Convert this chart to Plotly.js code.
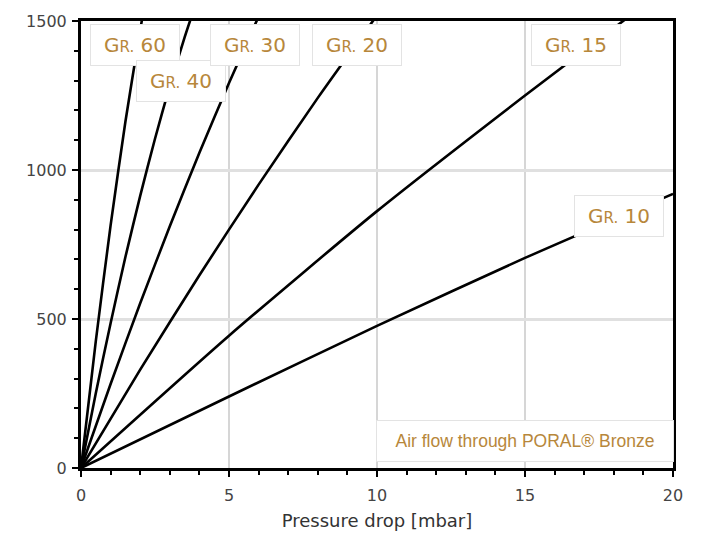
<!DOCTYPE html>
<html>
<head>
<meta charset="utf-8">
<script src="https://cdn.plot.ly/plotly-3.0.1.min.js"></script>
<style>html,body{margin:0;padding:0;background:#fff}#chart{width:702px;height:539px}</style>
</head>
<body>
<div id="chart"></div>
<script>
// Pressure drop [mbar] vs air flow, per grade
const gradeNames = ['60', '40', '30', '20', '15', '10'];
const gr60X = [0, 0.5, 1.0, 1.5, 2.0, 2.1];
const gr60Y = [0, 426, 814, 1162, 1470, 1527];
const gr40X = [0, 0.5, 1.0, 1.5, 2.0, 2.5, 3.0, 3.5, 3.8];
const gr40Y = [0, 251, 486, 708, 913, 1105, 1282, 1445, 1535];
const gr30X = [0, 1, 2, 3, 4, 5, 6];
const gr30Y = [0, 282, 553, 811, 1058, 1292, 1515];
const gr20X = [0, 2, 4, 6, 8, 10];
const gr20Y = [0, 330, 647, 951, 1242, 1519];
const gr15X = [0, 5, 10, 15, 18.5];
const gr15Y = [0, 444, 862, 1250, 1514];
const gr10X = [0, 5, 10, 15, 20];
const gr10Y = [0, 240, 477, 705, 920];
const xTicks = [0, 5, 10, 15, 20];
const yTicks = [0, 500, 1000, 1500];

const seriesX = [gr60X, gr40X, gr30X, gr20X, gr15X, gr10X];
const seriesY = [gr60Y, gr40Y, gr30Y, gr20Y, gr15Y, gr10Y];

const traces = gradeNames.map((g, i) => ({
  x: seriesX[i], y: seriesY[i], type: 'scatter', mode: 'lines',
  name: 'Gr. ' + g, line: {color: '#000', width: 2.6, shape: 'spline', smoothing: 0.6}, hoverinfo: 'skip'
}));

// label anchor positions (data coords)
const labelPos = [[1.84, 1420], [3.38, 1298], [5.88, 1420], [9.32, 1420], [16.72, 1420], [18.18, 847]];
const gold = '#b7873b';
const annotations = gradeNames.map((g, i) => ({
  x: labelPos[i][0], y: labelPos[i][1], xref: 'x', yref: 'y',
  text: 'G<span style="font-size:15px">R.</span> ' + g,
  showarrow: false, width: 86, height: 38,
  bgcolor: '#fff', bordercolor: '#e3e3e3', borderwidth: 1,
  font: {family: 'DejaVu Sans', size: 20, color: gold}
}));
annotations.push({
  x: 15.0, y: 89, xref: 'x', yref: 'y', text: 'Air flow through PORAL® Bronze',
  showarrow: false, width: 294, height: 38,
  bgcolor: '#fff', bordercolor: '#e3e3e3', borderwidth: 1,
  font: {family: 'Liberation Sans', size: 17.5, color: gold}
});

const layout = {
  width: 702, height: 539,
  margin: {l: 81, r: 29, t: 21, b: 71},
  paper_bgcolor: '#fff', plot_bgcolor: '#fff',
  showlegend: false,
  xaxis: {
    range: [0, 20], tickvals: xTicks, ticktext: xTicks.map(String),
    showline: true, linecolor: '#000', linewidth: 3, mirror: true,
    ticks: 'outside', ticklen: 6, tickwidth: 2, tickcolor: '#000',
    minor: {dtick: 1, ticks: 'outside', ticklen: 4, tickwidth: 2, tickcolor: '#000', showgrid: false},
    showgrid: true, gridcolor: '#d6d6d6', gridwidth: 2, zeroline: false,
    ticklabelstandoff: 5,
    tickfont: {family: 'DejaVu Sans', size: 16, color: '#444'},
    title: {text: 'Pressure drop [mbar]', standoff: 11, font: {family: 'DejaVu Sans', size: 18, color: '#333'}}
  },
  yaxis: {
    range: [0, 1500], tickvals: yTicks, ticktext: yTicks.map(String),
    showline: true, linecolor: '#000', linewidth: 3, mirror: true,
    ticks: 'outside', ticklen: 6, tickwidth: 2, tickcolor: '#000',
    minor: {dtick: 100, ticks: 'outside', ticklen: 4, tickwidth: 2, tickcolor: '#000', showgrid: false},
    showgrid: true, gridcolor: '#e0e0e0', gridwidth: 3, zeroline: false,
    ticklabelstandoff: 2,
    tickfont: {family: 'DejaVu Sans', size: 16, color: '#444'}
  },
  annotations: annotations
};

Plotly.newPlot('chart', traces, layout, {displayModeBar: false, staticPlot: true});
</script>
</body>
</html>
